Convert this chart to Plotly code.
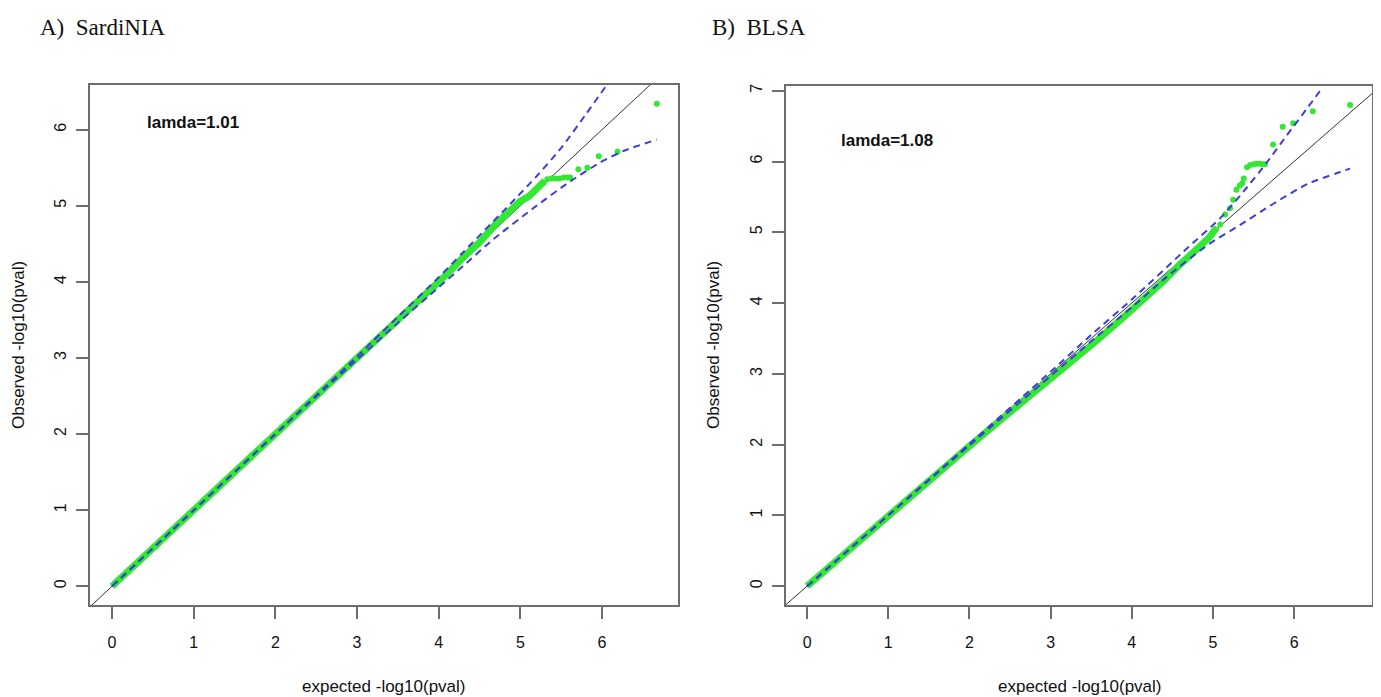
import plotly.graph_objects as go

W, H = 1381, 697

# ---------------- data ----------------
# Panel A: SardiNIA
A_dense_exp = [0.0, 0.5, 1.0, 1.5, 2.0, 2.5, 3.0, 3.5, 3.7, 3.9, 4.1, 4.3, 4.5, 4.7, 4.9, 5.0, 5.1, 5.2, 5.3]
A_dense_obs = [0.0, 0.5, 1.0, 1.5, 2.0, 2.5, 3.0, 3.5, 3.7, 3.88, 4.1, 4.32, 4.52, 4.76, 4.98, 5.06, 5.12, 5.22, 5.33]
A_tail_exp = [5.33, 5.38, 5.43, 5.48, 5.53, 5.58, 5.61, 5.71, 5.82, 5.96, 6.19, 6.67]
A_tail_obs = [5.35, 5.36, 5.36, 5.36, 5.37, 5.37, 5.37, 5.48, 5.50, 5.65, 5.71, 6.34]
A_upper_exp = [0.0, 1.0, 2.0, 3.0, 3.5, 4.0, 4.3, 4.6, 4.9, 5.2, 5.5, 5.8, 6.06]
A_upper_obs = [0.0, 1.0, 2.0, 3.02, 3.54, 4.06, 4.39, 4.72, 5.05, 5.39, 5.76, 6.20, 6.59]
A_lower_exp = [0.0, 1.0, 2.0, 3.0, 3.5, 4.0, 4.3, 4.67, 5.16, 5.61, 5.98, 6.26, 6.67]
A_lower_obs = [0.0, 1.0, 2.0, 2.98, 3.46, 3.93, 4.21, 4.56, 4.97, 5.32, 5.57, 5.72, 5.87]
A_lambda = "lamda=1.01"

# Panel B: BLSA
B_dense_exp = [0.0, 0.5, 1.0, 1.5, 2.0, 2.5, 3.0, 3.3, 3.6, 3.9, 4.2, 4.4, 4.6, 4.8, 4.95, 5.05]
B_dense_obs = [0.0, 0.5, 1.0, 1.49, 1.98, 2.46, 2.92, 3.2, 3.5, 3.8, 4.1, 4.32, 4.55, 4.77, 4.92, 5.07]
B_tail_exp = [5.09, 5.15, 5.21, 5.25, 5.29, 5.33, 5.36, 5.38, 5.42, 5.46, 5.50, 5.54, 5.58, 5.62, 5.64, 5.74, 5.86, 5.99, 6.23, 6.69]
B_tail_obs = [5.11, 5.25, 5.34, 5.46, 5.60, 5.66, 5.69, 5.76, 5.92, 5.95, 5.96, 5.97, 5.97, 5.96, 5.96, 6.24, 6.49, 6.54, 6.71, 6.80]
B_upper_exp = [0.0, 1.0, 2.0, 3.0, 3.5, 4.02, 4.64, 5.09, 5.38, 5.66, 5.91, 6.16, 6.34]
B_upper_obs = [0.0, 1.0, 2.01, 3.03, 3.55, 4.07, 4.73, 5.20, 5.58, 5.98, 6.37, 6.75, 7.03]
B_lower_exp = [0.0, 1.0, 2.0, 3.0, 3.5, 4.0, 4.43, 4.96, 5.33, 5.74, 6.16, 6.69]
B_lower_obs = [0.0, 1.0, 1.99, 2.97, 3.46, 3.94, 4.37, 4.84, 5.10, 5.40, 5.68, 5.90]
B_lambda = "lamda=1.08"

x_ticks = [0, 1, 2, 3, 4, 5, 6]
A_y_ticks = [0, 1, 2, 3, 4, 5, 6]
B_y_ticks = [0, 1, 2, 3, 4, 5, 6, 7]
diag = [-1, 8]

panel_titles = ["A)  SardiNIA", "B)  BLSA"]
x_title = "expected -log10(pval)"
y_title = "Observed -log10(pval)"

# ---------------- styling ----------------
GREEN = "#33e833"
BLUE = "#3d3dd8"
BOX = "#6e6e6e"
FONT = "Liberation Sans, Arial, sans-serif"
OFF = 8  # page body margin

def px_x(p):
    return (p - OFF) / W

def px_y(p):
    return 1 - (p - OFF) / H

fig = go.Figure()

def add_panel(xa, ya, d_exp, d_obs, t_exp, t_obs, u_exp, u_obs, l_exp, l_obs):
    fig.add_trace(go.Scatter(x=diag, y=diag, mode="lines", line=dict(color="#333333", width=1),
                             xaxis=xa, yaxis=ya, showlegend=False, hoverinfo="skip"))
    fig.add_trace(go.Scatter(x=d_exp, y=d_obs, mode="lines", line=dict(color=GREEN, width=7),
                             xaxis=xa, yaxis=ya, showlegend=False))
    fig.add_trace(go.Scatter(x=t_exp, y=t_obs, mode="markers",
                             marker=dict(color=GREEN, size=6, line=dict(width=0)),
                             xaxis=xa, yaxis=ya, showlegend=False))
    for bx, by in ((u_exp, u_obs), (l_exp, l_obs)):
        fig.add_trace(go.Scatter(x=bx, y=by, mode="lines",
                                 line=dict(color=BLUE, width=2, dash="7px,5px", shape="spline",
                                           smoothing=0.6),
                                 xaxis=xa, yaxis=ya, showlegend=False))

add_panel("x", "y", A_dense_exp, A_dense_obs, A_tail_exp, A_tail_obs,
          A_upper_exp, A_upper_obs, A_lower_exp, A_lower_obs)
add_panel("x2", "y2", B_dense_exp, B_dense_obs, B_tail_exp, B_tail_obs,
          B_upper_exp, B_upper_obs, B_lower_exp, B_lower_obs)

axis_common = dict(showgrid=False, zeroline=False, showline=True, mirror=True,
                   linecolor=BOX, linewidth=2, ticks="outside", ticklen=12,
                   tickcolor=BOX, tickwidth=2,
                   tickfont=dict(family=FONT, size=16, color="#111111"))

fig.update_layout(
    width=W, height=H,
    margin=dict(l=0, r=0, t=0, b=0),
    paper_bgcolor="white", plot_bgcolor="white",
    showlegend=False,
    xaxis=dict(domain=[px_x(90), px_x(678)], range=[-0.27, 6.93], tickvals=x_ticks,
               anchor="y", ticklabelstandoff=10, **axis_common),
    yaxis=dict(domain=[px_y(605), px_y(83)], range=[-0.25, 6.59], tickvals=A_y_ticks,
               tickangle=-90, anchor="x", ticklabelstandoff=4, **axis_common),
    xaxis2=dict(domain=[px_x(786), px_x(1372)], range=[-0.26, 6.96], tickvals=x_ticks,
                anchor="y2", ticklabelstandoff=10, **axis_common),
    yaxis2=dict(domain=[px_y(605), px_y(84)], range=[-0.27, 7.07], tickvals=B_y_ticks,
                tickangle=-90, anchor="x2", ticklabelstandoff=4, **axis_common),
)

ann = []
for txt, x0 in zip(panel_titles, (38, 710)):
    ann.append(dict(text=txt, x=px_x(x0), y=px_y(26), xref="paper", yref="paper",
                    xanchor="left", yanchor="middle", showarrow=False,
                    font=dict(family="Liberation Serif, Times New Roman, serif", size=23,
                              color="#111111")))
for cx in (384, 1079):
    ann.append(dict(text=x_title, x=px_x(cx), y=px_y(686), xref="paper", yref="paper",
                    xanchor="center", yanchor="middle", showarrow=False,
                    font=dict(family=FONT, size=17, color="#111111")))
for cx in (18, 713):
    ann.append(dict(text=y_title, x=px_x(cx), y=px_y(344), xref="paper", yref="paper",
                    xanchor="center", yanchor="middle", showarrow=False, textangle=-90,
                    font=dict(family=FONT, size=17, color="#111111")))
ann.append(dict(text="<b>" + A_lambda + "</b>", x=px_x(145), y=px_y(121), xref="paper", yref="paper",
                xanchor="left", yanchor="middle", showarrow=False,
                font=dict(family=FONT, size=17, color="#111111")))
ann.append(dict(text="<b>" + B_lambda + "</b>", x=px_x(839), y=px_y(139), xref="paper", yref="paper",
                xanchor="left", yanchor="middle", showarrow=False,
                font=dict(family=FONT, size=17, color="#111111")))
fig.update_layout(annotations=ann)

fig.write_html("out.html")
